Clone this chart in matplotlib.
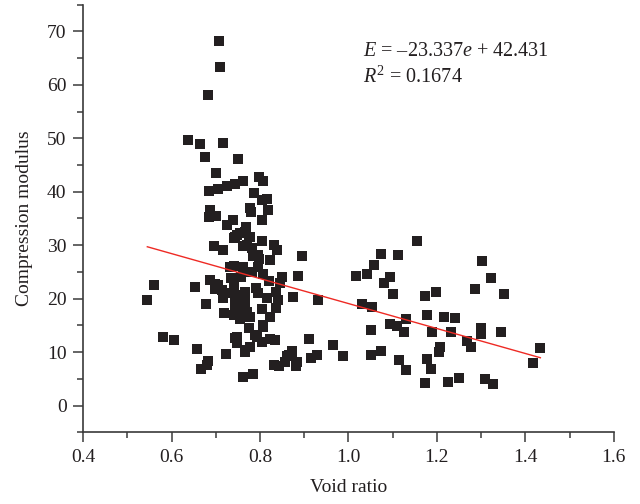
import numpy as np
import matplotlib
matplotlib.use("Agg")
import matplotlib.pyplot as plt
from matplotlib.ticker import MultipleLocator

plt.rcParams['font.family'] = ['Liberation Serif', 'DejaVu Serif']
plt.rcParams['mathtext.fontset'] = 'custom'
plt.rcParams['mathtext.rm'] = 'Liberation Serif'
plt.rcParams['mathtext.it'] = 'Liberation Serif:italic'

# measured points (void ratio, compression modulus)
void_ratio = [
    0.707, 0.709, 0.682, 0.637, 0.664, 0.716, 0.676, 0.750, 0.701,
    0.685, 0.706, 0.726, 0.743, 0.762, 0.797, 0.807, 0.786, 0.805, 0.815,
    0.686, 0.777, 0.779, 0.817, 0.685, 0.701, 0.805, 0.738, 0.725, 0.768,
    0.766, 0.747, 0.755, 0.740, 0.774, 0.805, 0.832, 0.839, 0.695, 0.717,
    0.762, 0.781, 0.795, 0.896, 0.770, 0.777, 0.744,
    0.545, 0.560, 0.580, 0.605, 0.653, 0.678, 0.658, 0.667, 0.680, 0.682, 0.723,
    0.686, 0.699, 0.713, 0.717, 0.718, 0.732, 0.747, 0.744, 0.765, 0.777, 0.762, 0.785,
    0.774, 0.792, 0.807, 0.805, 0.822, 0.834, 0.822, 0.835, 0.840, 0.837, 0.849, 0.844,
    0.874, 0.885, 0.911, 0.930, 0.915, 0.928, 0.832, 0.843, 0.857, 0.866, 0.873, 0.881, 0.883,
    0.796, 0.781, 0.766, 0.807, 0.820, 0.822, 0.797, 0.785, 0.740, 0.762,
    0.706, 0.740, 0.747, 0.744, 0.740, 0.755, 0.766, 0.762, 0.796, 0.815, 0.744, 0.766,
    0.755, 0.777, 0.770, 0.807, 0.789, 0.747, 0.766, 0.966, 0.988, 0.860, 0.872,
    0.698, 0.730, 0.735, 0.758, 0.790, 0.805, 0.752,
    1.156, 1.073, 1.111, 1.058, 1.017, 1.041, 1.080, 1.095, 1.100, 1.172, 1.199, 1.287,
    1.030, 1.053, 1.177, 1.216, 1.240, 1.130, 1.095, 1.109, 1.125, 1.052, 1.189, 1.233,
    1.267, 1.277, 1.207, 1.204, 1.073, 1.052, 1.114, 1.131, 1.177, 1.186, 1.172, 1.226, 1.251,
    1.303, 1.323, 1.351, 1.299, 1.299, 1.344, 1.434, 1.418, 1.308, 1.326,
]
modulus = [
    68.2, 63.3, 58.1, 49.7, 48.9, 49.2, 46.5, 46.1, 43.5,
    40.1, 40.5, 41.1, 41.5, 42.0, 42.7, 42.0, 39.7, 38.4, 38.6,
    36.6, 37.0, 36.2, 36.5, 35.2, 35.5, 34.7, 34.7, 33.8, 33.4,
    32.4, 31.9, 32.3, 31.3, 31.5, 30.8, 30.0, 29.1, 29.9, 29.2,
    29.9, 29.4, 28.2, 28.0, 30.0, 31.6, 31.6,
    19.8, 22.6, 12.9, 12.3, 22.1, 19.1, 10.6, 6.8, 7.6, 8.4, 9.7,
    23.5, 22.7, 21.6, 20.1, 17.4, 26.0, 11.7, 12.6, 10.0, 11.0, 5.4, 5.9,
    14.5, 12.9, 14.8, 12.0, 12.4, 12.3, 16.6, 18.2, 19.8, 21.3, 24.0, 23.0,
    20.4, 24.3, 12.5, 19.8, 9.0, 9.5, 7.6, 7.4, 8.2, 9.5, 10.3, 7.4, 8.2,
    26.0, 25.0, 25.0, 24.7, 23.4, 27.2, 27.5, 27.9, 26.1, 26.0,
    22.6, 22.6, 20.7, 18.5, 17.0, 16.3, 21.3, 18.8, 21.0, 20.1, 19.8, 19.4,
    17.9, 16.6, 17.6, 15.1, 13.2, 12.9, 10.4, 11.3, 9.2, 9.2, 10.1,
    21.9, 21.0, 23.8, 24.0, 22.0, 18.0, 19.0,
    30.8, 28.4, 28.2, 26.3, 24.3, 24.6, 23.0, 24.1, 20.9, 20.5, 21.3, 21.9,
    19.1, 18.5, 17.0, 16.6, 16.4, 16.3, 15.3, 14.9, 13.8, 14.1, 13.7, 13.8,
    12.1, 11.0, 11.0, 10.1, 10.3, 9.5, 8.5, 6.7, 8.7, 6.9, 4.3, 4.5, 5.2,
    27.1, 23.9, 20.9, 14.5, 13.4, 13.8, 10.7, 7.9, 4.9, 4.0,
]

slope = -23.337
intercept = 42.431
r_squared = 0.1674

fig = plt.figure(figsize=(6.4, 5.04), dpi=100)
ax = fig.add_axes([0.13, 0.142, 0.829, 0.849])

ax.scatter(void_ratio, modulus, marker='s', s=52, color='#231f20',
           linewidths=0, zorder=2)

# fitted line
fit_x = np.array([min(void_ratio), max(void_ratio)])
ax.plot(fit_x, slope * fit_x + intercept, color='#ee2a24', lw=1.0, zorder=3)

ax.text(1.033, 66.3, '$E$ = \u201323.337$e$ + 42.431', fontsize=14.5,
        va='center', ha='left', color='#231f20')
ax.text(1.033, 61.4, '$R^2$ = %.4f' % r_squared, fontsize=14.5,
        va='center', ha='left', color='#231f20')

ax.set_xlim(0.4, 1.6)
ax.set_ylim(-5, 75)
ax.xaxis.set_major_locator(MultipleLocator(0.2))
ax.xaxis.set_minor_locator(MultipleLocator(0.1))
ax.yaxis.set_major_locator(MultipleLocator(10))
ax.yaxis.set_minor_locator(MultipleLocator(5))
ax.xaxis.set_major_formatter(plt.FuncFormatter(lambda v, p: '%.1f' % v))

for side in ['top', 'right']:
    ax.spines[side].set_visible(False)
for side in ['left', 'bottom']:
    ax.spines[side].set_color('#3a3a3a')
    ax.spines[side].set_linewidth(1.2)

ax.tick_params(which='major', direction='out', length=7, width=1.1,
               color='#3a3a3a', labelsize=14, labelcolor='#231f20', pad=5)
ax.tick_params(which='minor', direction='out', length=4.5, width=1.1,
               color='#3a3a3a')

ax.set_xlabel('Void ratio', fontsize=14, color='#231f20', labelpad=9)
ax.set_ylabel('Compression modulus', fontsize=14, color='#231f20', labelpad=10)

fig.savefig('out.png', dpi=100)
